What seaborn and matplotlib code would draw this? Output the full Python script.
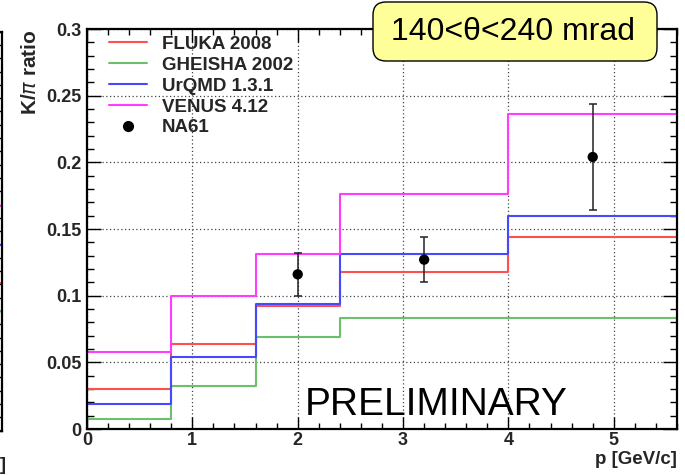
import matplotlib
matplotlib.use("Agg")
import matplotlib.pyplot as plt
from matplotlib.lines import Line2D
from matplotlib.patches import FancyBboxPatch
from matplotlib.ticker import MultipleLocator, FixedLocator, FixedFormatter
import numpy as np
import pandas as pd
import seaborn as sns

# --- data -------------------------------------------------------------
bin_edges = [0.0, 0.8, 1.6, 2.4, 4.0, 5.6]
models = ["FLUKA 2008", "GHEISHA 2002", "UrQMD 1.3.1", "VENUS 4.12"]
fluka = [0.030, 0.064, 0.092, 0.118, 0.144]
gheisha = [0.0073, 0.032, 0.069, 0.083, 0.083]
urqmd = [0.019, 0.054, 0.094, 0.131, 0.160]
venus = [0.058, 0.100, 0.131, 0.176, 0.236]

na61_p = [2.0, 3.2, 4.8]
na61_ratio = [0.116, 0.127, 0.204]
na61_err = [0.016, 0.017, 0.040]

# neighbouring panel: last-bin levels visible at its right edge
side_levels = [0.169, 0.1396, 0.111, 0.090]

x_ticks = [0, 1, 2, 3, 4, 5]
x_tick_labels = ["0", "1", "2", "3", "4", "5"]
y_ticks = [0, 0.05, 0.10, 0.15, 0.20, 0.25, 0.30]
y_tick_labels = ["0", "0.05", "0.1", "0.15", "0.2", "0.25", "0.3"]

colors = {"FLUKA 2008": "#ff5050", "GHEISHA 2002": "#6cc06c",
          "UrQMD 1.3.1": "#4848ff", "VENUS 4.12": "#ff3cff"}
side_colors = ["#ff3cff", "#4848ff", "#ff5050", "#6cc06c"]

# long-format table of step histograms (last value repeated to close the last bin)
rows = []
for name, vals in zip(models, [fluka, gheisha, urqmd, venus]):
    for x, y in zip(bin_edges, list(vals) + [vals[-1]]):
        rows.append({"p": x, "ratio": y, "model": name})
df = pd.DataFrame(rows)

# --- style ------------------------------------------------------------
sns.set_style("white")
FAMILY = ["Liberation Sans", "DejaVu Sans"]
plt.rcParams["font.family"] = FAMILY
plt.rcParams["mathtext.fontset"] = "custom"
plt.rcParams["mathtext.rm"] = "Liberation Sans:bold"

fig = plt.figure(figsize=(6.85, 4.75), dpi=100)
fig.patch.set_facecolor("white")

bold = {"family": FAMILY, "weight": "bold"}


def style_axis(a):
    a.set_xlim(0, 5.6)
    a.set_ylim(0, 0.3)
    a.xaxis.set_major_locator(FixedLocator(x_ticks))
    a.xaxis.set_minor_locator(MultipleLocator(0.2))
    a.yaxis.set_major_locator(FixedLocator(y_ticks))
    a.yaxis.set_minor_locator(MultipleLocator(0.01))
    for s in a.spines.values():
        s.set_linewidth(1.6)
        s.set_color("black")
        s.set_visible(True)
    a.tick_params(axis="y", which="major", direction="in", length=10, width=1.0,
                  left=True, right=True, color="black")
    a.tick_params(axis="y", which="minor", direction="in", length=5, width=1.0,
                  left=True, right=True, color="black")
    a.tick_params(axis="x", which="major", direction="in", length=9, width=1.0,
                  bottom=True, top=True, color="black")
    a.tick_params(axis="x", which="minor", direction="in", length=4.5, width=1.0,
                  bottom=True, top=True, color="black")


# --- neighbouring panel edge (left) ----------------------------------
ax0 = fig.add_axes([-0.6, 0.0933, 0.6036, 0.840])
style_axis(ax0)
ax0.set_xticks([])
ax0.set_xticks([], minor=True)
ax0.set_yticklabels([])
for lvl, c in zip(side_levels, side_colors):
    ax0.hlines(lvl, 5.0, 5.6, color=c, linewidth=1.5)
fig.text(0.0, 1 - 466 / 475, "]", fontsize=13, fontweight="bold",
         ha="left", va="center", family=FAMILY)

# --- main panel -------------------------------------------------------
ax = fig.add_axes([87 / 685, 46 / 475, 590 / 685, 400 / 475])
style_axis(ax)
ax.grid(True, which="major", linestyle=(0, (1, 2)), color="#444444", linewidth=0.9)
ax.set_axisbelow(True)

sns.lineplot(data=df, x="p", y="ratio", hue="model", hue_order=models,
             palette=colors, drawstyle="steps-post", linewidth=1.5,
             estimator=None, legend=False, ax=ax)

ax.errorbar(na61_p, na61_ratio, yerr=na61_err, fmt="none", ecolor="#222222",
            elinewidth=1.1, capsize=3, capthick=1.1, zorder=5)
sns.scatterplot(x=na61_p, y=na61_ratio, color="black", s=55, edgecolor="none",
                zorder=6, ax=ax)

ax.xaxis.set_major_formatter(FixedFormatter(x_tick_labels))
ax.yaxis.set_major_formatter(FixedFormatter(y_tick_labels))
for lab in ax.get_xticklabels() + ax.get_yticklabels():
    lab.set_fontweight("bold")
    lab.set_fontsize(13)
ax.tick_params(axis="y", which="major", pad=4)
ax.tick_params(axis="x", which="major", pad=2)

ax.set_xlabel("p [GeV/c]", fontdict=bold, fontsize=13.5, loc="right")
ax.xaxis.set_label_coords(1.0, -0.055)
ax.set_ylabel("K/$\\pi$ ratio", fontdict=bold, fontsize=15, loc="top")
ax.yaxis.set_label_coords(-0.08, 1.0)

# legend
handles = [Line2D([], [], color=colors[m], linewidth=1.5) for m in models]
handles.append(Line2D([], [], color="black", marker="o", linestyle="none",
                      markersize=7))
leg = ax.legend(handles, models + ["NA61"], loc="upper left",
                bbox_to_anchor=(0.038, 0.983), frameon=False,
                prop={"family": FAMILY, "weight": "bold", "size": 13.5},
                handlelength=2.0, handletextpad=0.8, labelspacing=0.2,
                borderpad=0.0, borderaxespad=0.0)

ax.text((305 - 87) / 590, (429 - 415) / 400, "PRELIMINARY",
        transform=ax.transAxes, fontsize=28, color="black",
        ha="left", va="baseline", family=FAMILY)

# angular-range label box, laid out in pixel units
axb = fig.add_axes([0, 0, 1, 1], zorder=10)
axb.set_xlim(0, 685)
axb.set_ylim(475, 0)
axb.axis("off")
axb.patch.set_alpha(0)
axb.add_patch(FancyBboxPatch((373, 2), 284, 59,
                             boxstyle="round,pad=0,rounding_size=13",
                             facecolor="#ffff99", edgecolor="black",
                             linewidth=1.0))
axb.text(513, 31.5, "140<θ<240 mrad", fontsize=23, ha="center", va="center",
         color="black", family=FAMILY)

fig.savefig("out.png", dpi=100)
